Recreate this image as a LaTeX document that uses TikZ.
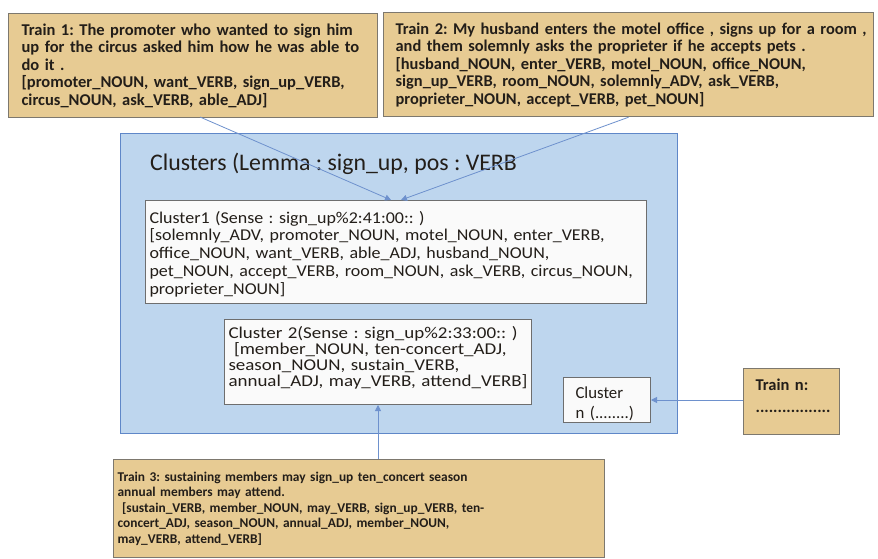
\documentclass[tikz,border=0pt]{standalone}
\usepackage{fontspec}
\setmainfont{Carlito}
\frenchspacing
\usetikzlibrary{arrows.meta,calc}
\definecolor{papyrus}{RGB}{231,203,147}
\definecolor{papyrusedge}{RGB}{125,120,110}
\definecolor{bluefill}{RGB}{190,214,238}
\definecolor{blueedge}{RGB}{95,135,200}
\definecolor{cellfill}{RGB}{250,250,250}
\definecolor{celledge}{RGB}{110,110,110}
\definecolor{arrowblue}{RGB}{110,145,205}
\definecolor{txt}{RGB}{35,30,25}
\newcommand{\stretchby}[1]{\addfontfeatures{FakeStretch=#1}}
\newcommand{\lineof}[1]{\mbox{#1}}
\begin{document}
\begin{tikzpicture}[x=1pt,y=-1pt,
  trainbox/.style={draw=papyrusedge, line width=1.2pt, fill=papyrus, anchor=north west,
    inner ysep=0pt, text=txt, align=left},
  cellbox/.style={draw=celledge, line width=1pt, fill=cellfill, anchor=north west,
    inner ysep=0pt, text=txt, align=left},
  groupbox/.style={draw=blueedge, line width=1.2pt, fill=bluefill, anchor=north west, inner sep=0pt},
  link/.style={draw=arrowblue, line width=0.8pt, -{Triangle[width=6pt,length=6pt]}}
]
\useasboundingbox (0,0) rectangle (878,559);
\fill[white] (0,0) rectangle (878,559);

% group box
\node[groupbox, minimum width=557pt, minimum height=300pt] (grp) at (120,133) {};
\node[anchor=west, text=txt, inner sep=0pt, font=\fontsize{23.8}{27}\selectfont] (title) at (150,164)
  {Clusters (Lemma : sign\_up, pos : VERB};

% train boxes
\node[trainbox, minimum height=104pt, inner xsep=13pt, text width=343pt,
  font=\fontsize{16.5}{17.5}\selectfont\bfseries] (t1) at (8,13)
  {\lineof{Train 1: The promoter who wanted to sign him}\\
   \lineof{up for the circus asked him how he was able to}\\
   \lineof{do it .}\\
   \lineof{[promoter\_NOUN, want\_VERB, sign\_up\_VERB,}\\
   \lineof{circus\_NOUN, ask\_VERB, able\_ADJ]}};

\node[trainbox, minimum height=104pt, inner xsep=12pt, text width=466pt,
  font=\fontsize{16.4}{17.5}\selectfont\bfseries] (t2) at (383,12)
  {\lineof{Train 2: My husband enters the motel office , signs up for a room ,}\\
   \lineof{and them solemnly asks the proprieter if he accepts pets .}\\
   \lineof{[husband\_NOUN, enter\_VERB, motel\_NOUN, office\_NOUN,}\\
   \lineof{sign\_up\_VERB, room\_NOUN, solemnly\_ADV, ask\_VERB,}\\
   \lineof{proprieter\_NOUN, accept\_VERB, pet\_NOUN]}};

\node[trainbox, minimum height=98pt, inner xsep=4pt, text width=483pt,
  font=\fontsize{13.4}{15.5}\selectfont\bfseries] (t3) at (113,459)
  {\lineof{Train 3: sustaining members may sign\_up ten\_concert season}\\
   \lineof{annual members may attend.}\\
   \lineof{\ [sustain\_VERB, member\_NOUN, may\_VERB, sign\_up\_VERB, ten-}\\
   \lineof{concert\_ADJ, season\_NOUN, annual\_ADJ, member\_NOUN,}\\
   \lineof{may\_VERB, attend\_VERB]}};

\node[trainbox, minimum height=66pt, inner xsep=12pt, text width=72pt,
  font=\fontsize{16.5}{22}\selectfont\bfseries] (tn) at (743,368)
  {\lineof{Train n:}\\\lineof{.................}\rule[-12pt]{0pt}{0pt}};

% cluster boxes
\node[cellbox, minimum height=103pt, inner xsep=4pt, text width=493pt,
  font=\fontsize{16.5}{17.8}\selectfont\stretchby{1.09}] (c1) at (145,200)
  {\lineof{\rule{0pt}{16pt}Cluster1 (Sense : sign\_up\%2:41:00:: )}\\
   \lineof{[solemnly\_ADV, promoter\_NOUN, motel\_NOUN, enter\_VERB,}\\
   \lineof{office\_NOUN, want\_VERB, able\_ADJ, husband\_NOUN,}\\
   \lineof{pet\_NOUN, accept\_VERB, room\_NOUN, ask\_VERB, circus\_NOUN,}\\
   \lineof{proprieter\_NOUN]}};

\node[cellbox, minimum height=85pt, inner xsep=4pt, text width=299pt,
  font=\fontsize{16.5}{16}\selectfont\stretchby{1.15}] (c2) at (224,319)
  {\lineof{Cluster 2(Sense : sign\_up\%2:33:00:: )}\\
   \lineof{\ [member\_NOUN, ten-concert\_ADJ,}\\
   \lineof{season\_NOUN, sustain\_VERB,}\\
   \lineof{annual\_ADJ, may\_VERB, attend\_VERB]}\rule[-12pt]{0pt}{0pt}};

\node[cellbox, minimum height=45pt, inner xsep=12pt, text width=63pt,
  font=\fontsize{16.8}{20}\selectfont] (cn) at (563,377)
  {\lineof{\rule{0pt}{19pt}Cluster}\\\lineof{n (........)}};

% connectors
\coordinate (in1) at (391,200);
\coordinate (in2) at (401,200);
\coordinate (o1) at (200,117);
\draw[link] (o1) -- (in1);
\draw[link] (t2.south) -- (in2);
\draw[link] (t3.north -| c2.south) -- (c2.south);
\draw[link] (tn.west |- cn.east) -- (cn.east);
\end{tikzpicture}
\end{document}
